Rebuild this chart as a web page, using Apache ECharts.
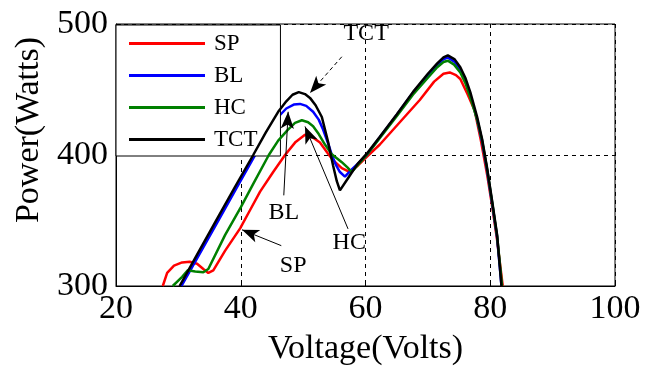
<!DOCTYPE html>
<html>
<head>
<meta charset="utf-8">
<script src="https://cdn.jsdelivr.net/npm/echarts@6/dist/echarts.min.js"></script>
<style>html,body{margin:0;padding:0;background:#fff}#c{width:646px;height:371px}</style>
</head>
<body>
<div id="c"></div>
<script>
// ---- data (Voltage in Volts, Power in Watts) ----
const seriesNames = ['SP', 'BL', 'HC', 'TCT'];
const xTicks = [20, 40, 60, 80, 100];
const yTicks = [300, 400, 500];

const spData = [[27.5,300],[28.2,310],[29.3,315.5],[30.6,318],[31.8,318.5],[33,317],[34,313],[34.8,310],[35.6,312],[37.5,327],[39.9,344],[41.5,358],[43.1,372],[45.2,387],[47.1,400],[48.8,410],[50.3,415.5],[51.5,413.5],[52.7,409.5],[54,401],[54.8,396],[56.2,390],[57.5,387],[58.8,392],[60.2,398.5],[62.3,408],[65.5,425],[68.7,442],[71,456],[72.5,462],[73.5,463],[74.5,461],[75.2,458],[76.4,446],[77.5,434],[78.5,411],[79.5,385],[80.3,361],[81.1,335],[82,300]];
const blData = [[30.5,300],[33,321],[36,346.5],[39,372],[42,397.5],[44,414],[46,429],[47.3,435.5],[48.5,438.5],[49.5,439],[50.5,437.5],[51.6,433],[52.5,427],[53.2,419.5],[54,409],[54.6,400],[55.3,392],[55.9,387],[56.7,383.5],[57.8,389],[58.7,393],[60.2,400],[62.3,413.5],[65,430.5],[67.6,447.5],[70,461],[71.5,469],[72.5,473],[73.2,474.5],[74.3,471],[75.2,465],[76,457],[76.8,446],[77.9,427],[78.7,410],[79.5,388],[80.3,363],[81.1,337],[81.8,300]];
const hcData = [[29.1,300],[30.6,307],[31.5,312],[32.7,311],[34,310.5],[34.8,313],[37.5,339],[40,360],[42,378],[44.5,400],[46,411],[47.5,419],[48.7,424.5],[49.8,426.5],[50.8,425],[51.6,422],[52.5,416],[53.5,408],[54.6,400.5],[55.4,397.5],[56.2,394.5],[57.1,390.5],[57.8,387],[58.7,392],[60.2,400],[62.3,413],[65,429.5],[67.6,446],[70,459],[71.5,467],[72.5,471],[73.2,472],[74.2,469],[75.2,463],[76,455],[76.8,444],[77.9,427],[78.7,411],[79.5,389],[80.3,364],[81.1,338],[81.9,300]];
const tctData = [[30.2,300],[33,324],[36,349.5],[39,375],[42,400],[44,417],[46,433],[47.3,441],[48.3,446],[49.3,448],[50.3,446.5],[51.1,443.6],[52,438],[53,429],[54,410],[54.8,392],[55.4,380],[55.9,373],[57.3,383],[58.7,393],[60.2,401],[62.3,414],[65,431],[67.6,448],[70,462],[71.5,470],[72.5,474.5],[73.2,476],[74.3,473],[75.2,467],[76,459],[76.8,448],[77.9,429],[78.7,412],[79.5,390],[80.3,365],[81.1,339],[81.8,300]];

// annotations (data coordinates)
const annotationLabels = ['TCT', 'BL', 'HC', 'SP'];
const annotationTextAt = [[60.1,492.5],[46.9,356],[57.4,333],[48.4,315.8]];
const arrowFrom = [[56.2,475],[46.9,369.2],[57.2,343.6],[46.5,330.8]];
const arrowTo = [[51.1,447.4],[47.6,433],[50.3,421.8],[40.2,342.9]];
const arrowDashed = [true, false, false, false];

// ---- chart ----
const FONT = "'Liberation Serif','Times New Roman',serif";
const colors = ['#ff0000', '#0000ff', '#008000', '#000000'];
const datasets = [spData, blData, hcData, tctData];

const markLineData = arrowFrom.map((f, i) => [
  { coord: f, symbol: 'none', lineStyle: { type: arrowDashed[i] ? [4, 3] : 'solid', color: '#000', width: 1 } },
  { coord: arrowTo[i], symbol: 'arrow' }
]);
const markPointData = annotationLabels.map((t, i) => ({ name: t, coord: annotationTextAt[i] }));

const series = seriesNames.map((n, i) => ({
  name: n,
  type: 'line',
  data: datasets[i],
  showSymbol: false,
  symbol: 'none',
  lineStyle: { color: colors[i], width: 2.5 },
  itemStyle: { color: colors[i] },
  z: 2 + i
}));
series[3].markLine = {
  silent: true,
  animation: false,
  symbolSize: [10, 17],
  label: { show: false },
  lineStyle: { color: '#000', width: 1 },
  itemStyle: { color: '#000' },
  data: markLineData
};
series[3].markPoint = {
  silent: true,
  animation: false,
  symbol: 'rect',
  symbolSize: 1,
  itemStyle: { color: 'rgba(0,0,0,0)' },
  label: { show: true, position: 'inside', formatter: '{b}', color: '#000', fontSize: 24, fontFamily: FONT },
  data: markPointData
};

const chart = echarts.init(document.getElementById('c'), null, { renderer: 'canvas' });
chart.setOption({
  animation: false,
  backgroundColor: '#fff',
  grid: { left: 116, right: 31, top: 24, bottom: 82, show: true, borderColor: '#000', borderWidth: 1, backgroundColor: 'transparent' },
  legend: {
    data: seriesNames,
    orient: 'vertical',
    left: 116, top: 25,
    backgroundColor: '#fff',
    borderColor: '#000', borderWidth: 1, borderRadius: 0,
    padding: [7, 23, 5, 13],
    itemGap: 9,
    itemWidth: 76, itemHeight: 3,
    icon: 'rect',
    textStyle: { fontFamily: FONT, fontSize: 23, color: '#000', lineHeight: 22, padding: [0, 0, 0, 4] }
  },
  xAxis: {
    type: 'value', min: xTicks[0], max: xTicks[xTicks.length - 1], interval: 20,
    name: 'Voltage(Volts)', nameLocation: 'middle', nameGap: 46,
    nameTextStyle: { fontFamily: FONT, fontSize: 34, color: '#000' },
    axisLine: { show: true, lineStyle: { color: '#000', width: 1 } },
    axisTick: { show: true, inside: true, length: 5, lineStyle: { color: '#000' } },
    axisLabel: { fontFamily: FONT, fontSize: 34, color: '#000', margin: 6 },
    splitLine: { show: true, lineStyle: { color: '#000', width: 1, type: [4, 4] } }
  },
  yAxis: {
    type: 'value', min: yTicks[0], max: yTicks[yTicks.length - 1], interval: 100,
    name: 'Power(Watts)', nameLocation: 'middle', nameGap: 70,
    nameTextStyle: { fontFamily: FONT, fontSize: 34, color: '#000', padding: [0, 0, 0, 50] },
    axisLine: { show: true, lineStyle: { color: '#000', width: 1 } },
    axisTick: { show: true, inside: true, length: 5, lineStyle: { color: '#000' } },
    axisLabel: { fontFamily: FONT, fontSize: 34, color: '#000', margin: 8 },
    splitLine: { show: true, lineStyle: { color: '#000', width: 1, type: [4, 4] } }
  },
  series: series
});
</script>
</body>
</html>
